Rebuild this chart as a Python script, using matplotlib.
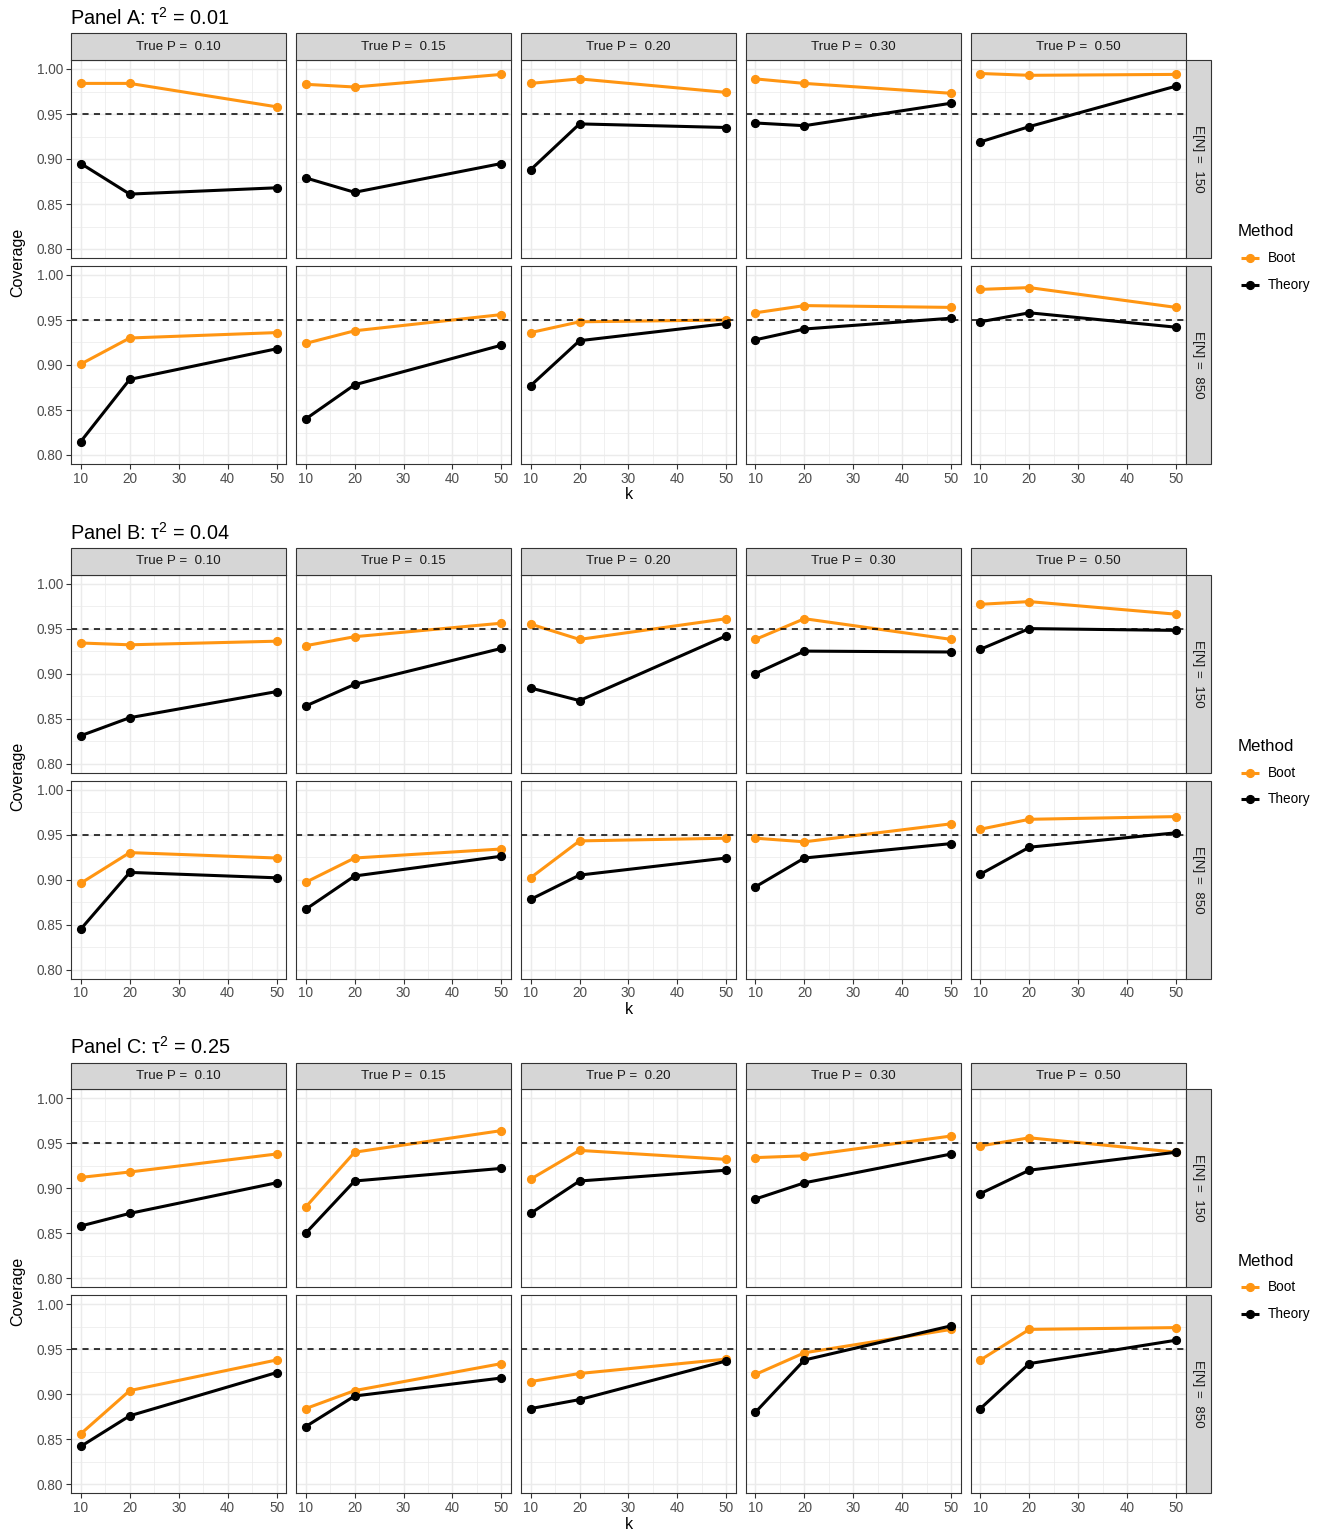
import matplotlib
matplotlib.use("Agg")
import matplotlib.pyplot as plt
from matplotlib.lines import Line2D
from matplotlib.patches import Rectangle

plt.rcParams['font.family'] = ['Liberation Sans', 'DejaVu Sans']
plt.rcParams['mathtext.fontset'] = 'custom'
plt.rcParams['mathtext.rm'] = 'Liberation Sans'
plt.rcParams['mathtext.it'] = 'Liberation Sans:italic'

# ---------------------------------------------------------------- data
k_values = [10, 20, 50]
true_p_labels = ["0.10", "0.15", "0.20", "0.30", "0.50"]
mean_n_labels = ["150", "850"]
panel_letters = ["A", "B", "C"]
tau2_labels = ["0.01", "0.04", "0.25"]
method_labels = ["Boot", "Theory"]
nominal_level = 0.95

# coverage, one row per true P, columns k = 10, 20, 50
boot_a_150 = [[0.984, 0.984, 0.958], [0.983, 0.980, 0.994], [0.984, 0.989, 0.974],
              [0.989, 0.984, 0.973], [0.995, 0.993, 0.994]]
theory_a_150 = [[0.895, 0.861, 0.868], [0.879, 0.863, 0.895], [0.888, 0.939, 0.935],
                [0.940, 0.937, 0.962], [0.919, 0.936, 0.981]]
boot_a_850 = [[0.901, 0.930, 0.936], [0.924, 0.938, 0.956], [0.936, 0.948, 0.950],
              [0.958, 0.966, 0.964], [0.984, 0.986, 0.964]]
theory_a_850 = [[0.815, 0.884, 0.918], [0.840, 0.878, 0.922], [0.877, 0.927, 0.946],
                [0.928, 0.940, 0.952], [0.948, 0.958, 0.942]]

boot_b_150 = [[0.934, 0.932, 0.936], [0.931, 0.941, 0.956], [0.955, 0.938, 0.961],
              [0.938, 0.961, 0.938], [0.977, 0.980, 0.966]]
theory_b_150 = [[0.831, 0.851, 0.880], [0.864, 0.888, 0.928], [0.884, 0.870, 0.942],
                [0.900, 0.925, 0.924], [0.927, 0.950, 0.948]]
boot_b_850 = [[0.896, 0.930, 0.924], [0.897, 0.924, 0.934], [0.902, 0.943, 0.946],
              [0.946, 0.942, 0.962], [0.956, 0.967, 0.970]]
theory_b_850 = [[0.845, 0.908, 0.902], [0.867, 0.904, 0.926], [0.878, 0.905, 0.924],
                [0.892, 0.924, 0.940], [0.906, 0.936, 0.952]]

boot_c_150 = [[0.912, 0.918, 0.938], [0.879, 0.940, 0.964], [0.910, 0.942, 0.932],
              [0.934, 0.936, 0.958], [0.947, 0.956, 0.940]]
theory_c_150 = [[0.858, 0.872, 0.906], [0.850, 0.908, 0.922], [0.872, 0.908, 0.920],
                [0.888, 0.906, 0.938], [0.894, 0.920, 0.940]]
boot_c_850 = [[0.856, 0.904, 0.938], [0.884, 0.904, 0.934], [0.914, 0.923, 0.939],
              [0.922, 0.946, 0.972], [0.938, 0.972, 0.974]]
theory_c_850 = [[0.842, 0.876, 0.924], [0.864, 0.898, 0.918], [0.884, 0.894, 0.937],
                [0.880, 0.938, 0.976], [0.884, 0.934, 0.960]]

panels = [
    [(boot_a_150, theory_a_150), (boot_a_850, theory_a_850)],
    [(boot_b_150, theory_b_150), (boot_b_850, theory_b_850)],
    [(boot_c_150, theory_c_150), (boot_c_850, theory_c_850)],
]

# ---------------------------------------------------------------- style
method_colors = {"Boot": "#FF9512", "Theory": "#000000"}
grid_col = "#EBEBEB"
border_col = "#333333"
strip_fill = "#D6D6D6"
tick_text_col = "#4D4D4D"

tick_fs = 9.8
strip_fs = 9.6
title_fs = 14.3
axis_title_fs = 11.5
legend_title_fs = 12.2
legend_fs = 9.8
line_w = 2.2
marker_sz = 5.6

W, H = 1327, 1535
fig = plt.figure(figsize=(W / 100, H / 100), dpi=100)
fig.patch.set_facecolor("white")


def rect(left, top, width, height):
    return [left / W, 1 - (top + height) / H, width / W, height / H]


def fx(x):
    return x / W


def fy(y):
    return 1 - y / H


facet_left0 = 71.0
facet_w = 215.3
facet_gap = 9.6
row_h = 198.0
row_gap = 8.0
strip_h = 26.7
rstrip_w = 25.0
panel_step = 514.6
first_top = 60.0

for p, rows in enumerate(panels):
    top0 = first_top + p * panel_step

    fig.text(fx(facet_left0 - 1), fy(top0 - 35),
             r"Panel %s: $\mathrm{\tau}^2$ = %s" % (panel_letters[p], tau2_labels[p]),
             fontsize=title_fs, ha="left", va="baseline", color="black")

    for r, (boot_rows, theory_rows) in enumerate(rows):
        top = top0 + r * (row_h + row_gap)
        for c in range(len(true_p_labels)):
            left = facet_left0 + c * (facet_w + facet_gap)
            ax = fig.add_axes(rect(left, top, facet_w, row_h))
            ax.set_xlim(8, 52)
            ax.set_ylim(0.79, 1.01)
            ax.set_xticks([10, 20, 30, 40, 50])
            ax.set_xticks([15, 25, 35, 45], minor=True)
            ax.set_yticks([0.80, 0.85, 0.90, 0.95, 1.00])
            ax.set_yticks([0.825, 0.875, 0.925, 0.975], minor=True)
            ax.grid(which="major", color=grid_col, lw=1.07, zorder=0)
            ax.grid(which="minor", color=grid_col, lw=0.53, zorder=0)
            ax.set_axisbelow(True)
            for s in ax.spines.values():
                s.set_color(border_col)
                s.set_linewidth(0.8)
                s.set_zorder(5)
            ax.tick_params(which="minor", length=0)
            ax.tick_params(which="major", length=3.5, width=0.8, color=border_col,
                           labelsize=tick_fs, labelcolor=tick_text_col, pad=2)
            if c == 0:
                ax.set_yticklabels(["0.80", "0.85", "0.90", "0.95", "1.00"])
            else:
                ax.tick_params(axis="y", which="both", left=False, labelleft=False)
            if r == 1:
                ax.set_xticklabels(["10", "20", "30", "40", "50"])
            else:
                ax.tick_params(axis="x", which="both", bottom=False, labelbottom=False)

            for name, series in (("Boot", boot_rows), ("Theory", theory_rows)):
                ax.plot(k_values, series[c], color=method_colors[name], lw=line_w,
                        marker="o", markersize=marker_sz, solid_capstyle="butt", zorder=3)
            ax.axhline(nominal_level, color="black", lw=1.1, ls=(0, (4, 3.5)), zorder=4)

            # column strip
            if r == 0:
                fig.add_artist(Rectangle((fx(left), fy(top)), facet_w / W, strip_h / H,
                                         transform=fig.transFigure, facecolor=strip_fill,
                                         edgecolor=border_col, lw=0.8))
                fig.text(fx(left + facet_w / 2), fy(top - strip_h / 2),
                         "True P =  " + true_p_labels[c], fontsize=strip_fs,
                         ha="center", va="center", color="#1A1A1A")

        # row strip
        rleft = facet_left0 + 4 * (facet_w + facet_gap) + facet_w
        fig.add_artist(Rectangle((fx(rleft), fy(top + row_h)), rstrip_w / W, row_h / H,
                                 transform=fig.transFigure, facecolor=strip_fill,
                                 edgecolor=border_col, lw=0.8))
        fig.text(fx(rleft + rstrip_w / 2), fy(top + row_h / 2),
                 "E[N] =  " + mean_n_labels[r], fontsize=strip_fs, rotation=-90,
                 ha="center", va="center", color="#1A1A1A")

    bottom = top0 + 2 * row_h + row_gap
    right_end = facet_left0 + 4 * (facet_w + facet_gap) + facet_w
    fig.text(fx((facet_left0 + right_end) / 2), fy(bottom + 31), "k",
             fontsize=axis_title_fs, ha="center", va="center", color="black")
    fig.text(fx(18), fy((top0 + bottom) / 2), "Coverage", fontsize=axis_title_fs,
             rotation=90, ha="center", va="center", color="black")

    # legend
    fig.text(fx(1238), fy(top0 + 172), "Method", fontsize=legend_title_fs, ha="left",
             va="center", color="black")
    for i, name in enumerate(method_labels):
        yk = top0 + 198 + i * 26.5
        fig.add_artist(Line2D([fx(1241), fx(1259)], [fy(yk), fy(yk)],
                              transform=fig.transFigure, color=method_colors[name],
                              lw=line_w, solid_capstyle="butt"))
        fig.add_artist(Line2D([fx(1250)], [fy(yk)], transform=fig.transFigure,
                              color=method_colors[name], marker="o",
                              markersize=marker_sz, lw=0))
        fig.text(fx(1268), fy(yk), name, fontsize=legend_fs, ha="left", va="center",
                 color="black")

fig.savefig("out.png", dpi=100, facecolor="white")
